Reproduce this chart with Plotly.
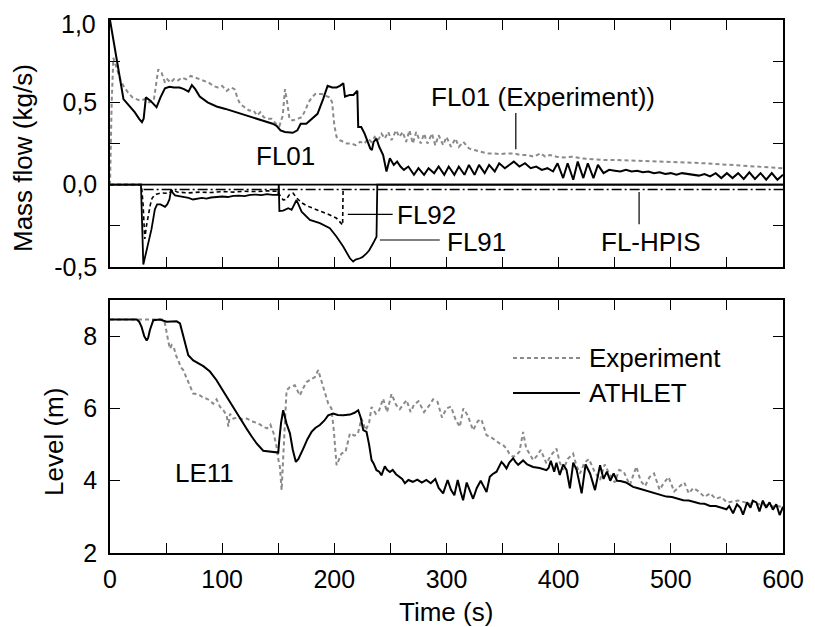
import plotly.graph_objects as go

# ---------------- data ----------------
# Top panel: mass flows (kg/s)
fl01_athlet_t = [0, 3, 8, 12, 17, 22, 26, 28.5, 30, 32, 36, 41.5, 45, 49, 53, 57, 62, 66, 70, 73, 76, 80,
                 87, 95, 103, 110, 118, 125, 132, 140, 145, 148.5, 152, 156, 163, 167, 170, 175, 180, 185,
                 190, 194, 198, 202, 205, 208, 209.5, 214, 217, 220.5, 221.3, 224, 227, 230, 232, 233.5,
                 235, 237.5, 240, 243.5, 246.5, 249.5, 253, 256, 259, 262, 266, 271, 275, 280, 284, 289,
                 293, 298, 302, 307, 311, 316, 320, 325, 329, 334, 338, 343, 347, 352, 356, 360, 365, 370,
                 375, 380, 385, 390, 395, 399, 404, 408, 413, 417, 422, 426, 431, 435, 440, 445, 450, 455,
                 460, 465, 470, 475, 480, 485, 490, 495, 500, 505, 510, 515, 520, 525, 530, 535, 540, 545,
                 550, 555, 560, 565, 570, 575, 580, 585, 590, 595, 600]
fl01_athlet_v = [1.0, 0.88, 0.67, 0.52, 0.48, 0.44, 0.40, 0.38, 0.40, 0.53, 0.51, 0.47, 0.53, 0.585, 0.595,
                 0.59, 0.59, 0.58, 0.565, 0.605, 0.58, 0.535, 0.50, 0.475, 0.46, 0.445, 0.43, 0.413, 0.40,
                 0.383, 0.37, 0.357, 0.33, 0.32, 0.315, 0.33, 0.37, 0.37, 0.40, 0.43, 0.52, 0.60, 0.59,
                 0.59, 0.60, 0.616, 0.535, 0.545, 0.545, 0.57, 0.35, 0.35, 0.31, 0.25, 0.22, 0.21, 0.26,
                 0.28, 0.23, 0.18, 0.08, 0.16, 0.12, 0.14, 0.11, 0.09, 0.11, 0.06, 0.10, 0.06, 0.10, 0.07,
                 0.11, 0.06, 0.11, 0.06, 0.11, 0.06, 0.12, 0.06, 0.12, 0.07, 0.12, 0.08, 0.13, 0.10, 0.12,
                 0.14, 0.11, 0.13, 0.10, 0.11, 0.09, 0.10, 0.08, 0.13, 0.04, 0.13, 0.03, 0.14, 0.04, 0.13,
                 0.04, 0.12, 0.07, 0.09, 0.085, 0.08, 0.09, 0.08, 0.085, 0.075, 0.08, 0.07, 0.075, 0.065,
                 0.07, 0.06, 0.07, 0.065, 0.06, 0.055, 0.065, 0.05, 0.07, 0.04, 0.07, 0.04, 0.07, 0.035,
                 0.075, 0.035, 0.07, 0.03, 0.07, 0.03, 0.06]

fl01_exp_t = [0, 1.5, 3, 6, 9, 12, 16, 20, 24, 27, 31, 35, 39, 41, 43, 46, 49, 51, 54, 57, 60, 64, 68, 72,
              76, 80, 84, 88, 92, 96, 100, 104, 108, 111, 114, 116, 120, 124, 128, 131, 134, 137, 140,
              144, 148, 151, 154, 156, 158, 160, 163, 167, 171, 174, 177, 180, 183, 186, 189, 192, 196,
              198, 200, 202, 205, 208, 211, 215, 219, 223, 227, 230, 233, 236, 239, 242, 245, 248, 251,
              255, 258, 261, 264, 267, 270, 273, 277, 280, 283, 287, 290, 293, 297, 300, 304, 308, 311,
              315, 320, 325, 330, 336, 342, 348, 354, 360, 366, 372, 378, 384, 388, 392, 398, 405, 412,
              420, 430, 440, 450, 460, 470, 480, 490, 500, 510, 520, 530, 540, 550, 560, 570, 580, 590, 600]
fl01_exp_v = [0.0, 0.5, 0.77, 0.70, 0.64, 0.60, 0.56, 0.53, 0.52, 0.51, 0.52, 0.50, 0.51, 0.60, 0.70, 0.68,
              0.62, 0.64, 0.62, 0.64, 0.63, 0.65, 0.64, 0.66, 0.65, 0.64, 0.63, 0.62, 0.60, 0.59, 0.60,
              0.57, 0.59, 0.58, 0.52, 0.49, 0.47, 0.45, 0.45, 0.42, 0.44, 0.41, 0.40, 0.40, 0.37, 0.355,
              0.42, 0.58, 0.50, 0.40, 0.39, 0.40, 0.41, 0.45, 0.50, 0.53, 0.55, 0.55, 0.55, 0.54, 0.53,
              0.50, 0.36, 0.29, 0.27, 0.26, 0.25, 0.25, 0.24, 0.26, 0.25, 0.28, 0.26, 0.29, 0.27, 0.31,
              0.28, 0.32, 0.27, 0.33, 0.29, 0.32, 0.26, 0.33, 0.25, 0.32, 0.25, 0.31, 0.25, 0.31, 0.24,
              0.30, 0.24, 0.29, 0.23, 0.28, 0.23, 0.26, 0.22, 0.21, 0.20, 0.19, 0.19, 0.185, 0.19, 0.19,
              0.18, 0.18, 0.17, 0.19, 0.17, 0.18, 0.17, 0.165, 0.17, 0.16, 0.155, 0.15, 0.15, 0.148,
              0.147, 0.145, 0.14, 0.138, 0.135, 0.133, 0.13, 0.125, 0.12, 0.117, 0.113, 0.108, 0.104, 0.10]

fl91_t = [0, 27.6, 29.7, 32, 34, 37, 40, 42, 45, 47, 49, 51, 53, 54.5, 56, 58, 62, 66, 70, 74, 78, 82, 86,
          90, 95, 100, 105, 110, 115, 120, 125, 130, 135, 140, 145, 150, 150.5, 151, 154.4, 158.9, 161.9,
          164, 166.3, 168, 170.8, 178.2, 187.1, 196, 202, 207.9, 213.9, 216.8, 219, 222.8, 225, 228.7,
          231, 234.6, 237.6, 238.3, 600]
fl91_v = [0, 0, -0.485, -0.42, -0.37, -0.27, -0.15, -0.12, -0.12, -0.13, -0.135, -0.12, -0.09, -0.03,
          -0.05, -0.065, -0.07, -0.075, -0.08, -0.09, -0.085, -0.08, -0.085, -0.078, -0.075, -0.072,
          -0.075, -0.068, -0.066, -0.07, -0.062, -0.06, -0.064, -0.058, -0.062, -0.06, 0.0, -0.16,
          -0.158, -0.143, -0.153, -0.12, -0.093, -0.12, -0.164, -0.214, -0.234, -0.265, -0.316, -0.376,
          -0.447, -0.467, -0.455, -0.447, -0.44, -0.417, -0.40, -0.356, -0.316, 0.0, 0.0]

fl92_t = [0, 28, 29.5, 31, 32.5, 34, 36, 37.5, 40, 43, 46, 50, 53, 55.9, 60, 70, 80, 90, 100, 110, 120,
          130, 140, 150, 151, 154.4, 157, 160, 163.3, 166.3, 170.8, 176, 181.2, 188, 196, 202, 206.4,
          207.4, 207.8]
fl92_v = [0, 0, -0.12, -0.33, -0.25, -0.19, -0.12, -0.083, -0.06, -0.055, -0.05, -0.052, -0.05, -0.03,
          -0.045, -0.05, -0.045, -0.048, -0.042, -0.045, -0.04, -0.042, -0.038, -0.04, -0.06, -0.093,
          -0.09, -0.06, -0.052, -0.08, -0.11, -0.13, -0.143, -0.16, -0.184, -0.204, -0.234, -0.245, -0.03]

hpis_t = [30, 600]
hpis_v = [-0.03, -0.03]

# Bottom panel: level LE11 (m)
le11_athlet_t = [0, 23.8, 26, 28.2, 30.5, 32.7, 34, 35.6, 38.6, 44.5, 50.5, 55, 59.4, 62.4, 64.5, 66.8,
                 69.8, 74.2, 78, 83.2, 89.1, 95, 99.5, 104, 108.5, 112.9, 117.3, 121.8, 126.2, 130.7,
                 136.6, 143, 150, 150.9, 152.5, 154.4, 157.4, 160.4, 163, 165.7, 168, 172.3, 176, 179.7,
                 183, 187.1, 191, 194.5, 199, 203, 208, 214, 218, 221.3, 223.5, 225.8, 228.7, 231, 233.2,
                 235, 237.6, 240, 242, 245, 247, 249.5, 252, 255, 258.4, 260.5, 262.9, 266, 270, 274, 278,
                 282, 286, 290, 293, 297, 301, 304, 307, 310, 312.5, 314.8, 318, 321, 323.7, 327, 330.5,
                 333, 335.7, 338.6, 341, 344.6, 347, 349, 351, 353.5, 356, 359.4, 361.5, 363.9, 368.3,
                 372, 377.2, 383, 389.1, 391, 393, 396, 398, 401, 404, 407, 410, 413, 416, 420.5, 424, 428,
                 432.4, 436.9, 440, 443, 446, 449, 452, 455, 460, 466.3, 470, 475, 481, 486, 491, 496, 501,
                 506, 511, 516, 521, 525.8, 530, 535, 540, 545, 549.6, 552, 555.5, 559, 562, 564.4, 568,
                 571, 573, 576.3, 579, 582, 585, 588, 591, 594, 597, 600]
le11_athlet_v = [8.46, 8.46, 8.40, 8.25, 8.0, 7.88, 7.95, 8.17, 8.44, 8.46, 8.40, 8.40, 8.41, 8.35, 8.1,
                 7.79, 7.47, 7.33, 7.27, 7.17, 7.02, 6.78, 6.55, 6.32, 6.1, 5.90, 5.67, 5.44, 5.23, 5.03,
                 4.83, 4.80, 4.78, 5.12, 5.6, 5.95, 5.58, 5.31, 4.85, 4.52, 4.6, 4.89, 5.15, 5.35, 5.46,
                 5.54, 5.66, 5.81, 5.86, 5.82, 5.81, 5.83, 5.88, 5.95, 5.75, 5.40, 5.35, 5.0, 4.57, 4.48,
                 4.29, 4.25, 4.15, 4.40, 4.30, 4.24, 4.30, 4.18, 4.11, 4.05, 3.93, 4.02, 3.97, 4.03, 3.95,
                 4.02, 3.93, 4.05, 3.80, 3.65, 4.02, 3.75, 3.60, 4.02, 3.70, 3.46, 3.95, 3.70, 3.50, 3.80,
                 4.0, 3.85, 3.69, 4.11, 4.18, 4.25, 4.40, 4.52, 4.45, 4.34, 4.50, 4.62, 4.52, 4.44, 4.56,
                 4.45, 4.38, 4.35, 4.29, 4.35, 4.55, 4.25, 4.50, 4.16, 4.45, 4.30, 3.79, 4.50, 4.30, 3.65,
                 4.45, 4.20, 3.74, 4.43, 4.05, 4.25, 4.00, 4.20, 4.00, 3.99, 3.95, 3.83, 3.80, 3.75, 3.69,
                 3.65, 3.60, 3.56, 3.55, 3.50, 3.46, 3.45, 3.40, 3.37, 3.36, 3.30, 3.30, 3.25, 3.21, 3.30,
                 3.10, 3.35, 3.25, 3.06, 3.40, 3.25, 3.45, 3.40, 3.15, 3.45, 3.25, 3.40, 3.20, 3.35, 3.05,
                 3.28]

le11_exp_t = [0, 47.5, 49, 50.5, 52, 53.5, 55, 57, 59, 60.9, 63, 65.3, 68, 71.3, 74.2, 77, 80.2, 83, 86.1,
              89, 92, 95, 98, 101, 104, 105.5, 107, 110, 114, 118, 122, 127.7, 131, 134, 136.6, 140, 143,
              146, 148.5, 150, 151.5, 153, 155, 157.4, 160.4, 164.8, 167, 169.3, 172, 175.2, 179, 182.7,
              185.6, 188.5, 191, 194.5, 197.4, 199.5, 202, 204, 206.4, 210, 213.9, 218, 221, 224.2, 228,
              231, 233.2, 237, 240, 243.5, 247, 251, 255, 258.4, 264.4, 268, 271, 275, 280, 285, 288, 292,
              296, 300, 304, 308, 311.9, 315, 319, 323.7, 328, 331, 335.7, 340, 344, 347.5, 350, 353.5,
              356, 359.4, 362, 365, 368.3, 371, 374, 377.2, 381, 384, 389.1, 393, 398, 401, 404, 408,
              412.9, 416, 419, 423, 427, 432, 436.9, 441, 445, 450, 454, 458, 463.4, 469.3, 473, 477,
              481, 485, 490, 494, 498, 503, 508, 512, 516, 520, 525, 530, 535, 540, 545, 550, 560, 570,
              580, 590, 600]
le11_exp_v = [8.46, 8.46, 8.35, 8.07, 7.85, 7.65, 7.75, 7.68, 7.45, 7.33, 7.15, 7.06, 6.85, 6.59, 6.41,
              6.40, 6.36, 6.30, 6.27, 6.22, 6.13, 6.25, 6.05, 5.95, 5.81, 5.50, 5.85, 5.72, 5.75, 5.70,
              5.72, 5.63, 5.60, 5.55, 5.49, 5.45, 5.55, 5.30, 4.94, 4.60, 4.38, 3.74, 4.94, 6.5, 6.59,
              6.64, 6.50, 6.36, 6.55, 6.73, 6.80, 6.87, 7.06, 6.78, 6.50, 6.14, 6.0, 5.4, 4.43, 4.60,
              4.75, 4.80, 5.31, 5.25, 5.30, 5.72, 5.40, 5.60, 6.04, 5.85, 5.95, 6.27, 5.90, 6.40, 6.10,
              5.98, 6.23, 5.90, 6.10, 6.20, 5.90, 6.10, 6.25, 6.18, 5.75, 6.00, 6.05, 5.70, 5.49, 6.00,
              5.80, 5.40, 5.65, 5.70, 5.26, 5.20, 5.10, 5.03, 5.00, 4.89, 4.75, 4.66, 4.70, 4.80, 5.35,
              4.90, 4.75, 4.57, 4.70, 4.85, 4.48, 4.70, 4.89, 4.50, 4.30, 4.60, 4.75, 4.40, 4.20, 4.50,
              4.60, 4.25, 4.02, 4.45, 4.20, 3.95, 4.30, 4.25, 3.88, 4.39, 4.00, 3.85, 4.10, 4.20, 3.75,
              3.95, 4.10, 3.70, 3.85, 3.95, 3.65, 3.80, 3.70, 3.55, 3.65, 3.50, 3.55, 3.40, 3.45, 3.37,
              3.35, 3.30, 3.28]

x_tickvals = [0, 50, 100, 150, 200, 250, 300, 350, 400, 450, 500, 550, 600]
x_ticktext = ["0", "", "100", "", "200", "", "300", "", "400", "", "500", "", "600"]
top_tickvals = [-0.5, -0.25, 0.0, 0.25, 0.5, 0.75, 1.0]
top_ticktext = ["-0,5", "", "0,0", "", "0,5", "", ""]   # "1,0" drawn separately below the frame top
top_label_max = "1,0"
bot_tickvals = [2, 4, 6, 8]
bot_ticktext = ["2", "4", "6", "8"]

# ---------------- figure ----------------
FONT = "Liberation Sans, Arial, sans-serif"
GRAY = "#8a8a8a"
TICK_SIZE = 25
TEXT_SIZE = 26
WIN_W, WIN_H = 815, 627
OFF = 8  # page body margin of the browser
W, H = WIN_W - OFF, WIN_H - OFF
# plot area in window pixels: x 110..783, y 20..553
ML, MR, MT, MB = 110 - OFF, WIN_W - 783, 20 - OFF, WIN_H - 553
PW, PH = 783 - 110, 553 - 20


def px_x(p):  # window pixel -> paper x
    return (p - 110) / PW


def px_y(p):  # window pixel -> paper y
    return (553 - p) / PH


fig = go.Figure()

# top panel
fig.add_trace(go.Scatter(x=hpis_t, y=hpis_v, mode="lines", xaxis="x", yaxis="y",
                         line=dict(color="black", width=1.5, dash="10px,3px,2px,3px"), showlegend=False))
fig.add_trace(go.Scatter(x=fl92_t, y=fl92_v, mode="lines", xaxis="x", yaxis="y",
                         line=dict(color="black", width=1.6, dash="4px,3px"), showlegend=False))
fig.add_trace(go.Scatter(x=fl91_t, y=fl91_v, mode="lines", xaxis="x", yaxis="y",
                         line=dict(color="black", width=1.8), showlegend=False))
fig.add_trace(go.Scatter(x=fl01_exp_t, y=fl01_exp_v, mode="lines", xaxis="x", yaxis="y",
                         line=dict(color=GRAY, width=2, dash="4px,3px"), showlegend=False))
fig.add_trace(go.Scatter(x=fl01_athlet_t, y=fl01_athlet_v, mode="lines", xaxis="x", yaxis="y",
                         line=dict(color="black", width=2), showlegend=False))

# bottom panel
fig.add_trace(go.Scatter(x=le11_exp_t, y=le11_exp_v, mode="lines", xaxis="x2", yaxis="y2",
                         line=dict(color=GRAY, width=2, dash="4px,3px"), name="Experiment", showlegend=False))
fig.add_trace(go.Scatter(x=le11_athlet_t, y=le11_athlet_v, mode="lines", xaxis="x2", yaxis="y2",
                         line=dict(color="black", width=2), name="ATHLET", showlegend=False))

axis_common = dict(showline=True, linecolor="black", linewidth=1.5, mirror="ticks", ticks="inside",
                   ticklen=10, tickwidth=1.3, tickcolor="black", showgrid=False, zeroline=False,
                   ticklabeloverflow="allow",
                   tickfont=dict(family=FONT, size=TICK_SIZE, color="black"))

fig.update_layout(
    width=W, height=H,
    margin=dict(l=ML, r=MR, t=MT, b=MB, autoexpand=False),
    paper_bgcolor="white", plot_bgcolor="white",
    font=dict(family=FONT, size=TEXT_SIZE, color="black"),
    xaxis=dict(domain=[0, 1], anchor="y", range=[0, 600], tickmode="array", tickvals=x_tickvals,
               ticktext=x_ticktext, showticklabels=False, **axis_common),
    yaxis=dict(domain=[px_y(267), 1], anchor="x", range=[-0.5, 1.0], tickmode="array",
               tickvals=top_tickvals, ticktext=top_ticktext, ticklabelstandoff=6, **axis_common),
    xaxis2=dict(domain=[0, 1], anchor="y2", range=[0, 600], tickmode="array", tickvals=x_tickvals,
                ticktext=x_ticktext, ticklabelstandoff=3, **axis_common),
    yaxis2=dict(domain=[0, px_y(300)], anchor="x2", range=[2, 9], tickmode="array",
                tickvals=bot_tickvals, ticktext=bot_ticktext, ticklabelstandoff=6, **axis_common),
)

# "1,0" label of the top axis, sitting a little below the frame top
fig.add_annotation(x=px_x(98), y=px_y(24), xref="paper", yref="paper", text=top_label_max,
                   showarrow=False, xanchor="right", yanchor="middle",
                   font=dict(family=FONT, size=TICK_SIZE, color="black"))

# zero line in top panel
fig.add_hline(y=0, line=dict(color="black", width=1.6), xref="x", yref="y")

# leader lines (data coordinates)
leaders = [
    dict(x0=212, y0=-0.18, x1=252, y1=-0.18),      # FL92
    dict(x0=240.6, y0=-0.336, x1=294, y1=-0.336),  # FL91
    dict(x0=471.7, y0=-0.045, x1=471.7, y1=-0.24),  # FL-HPIS
    dict(x0=361.8, y0=0.435, x1=361.8, y1=0.215),   # FL01 (Experiment)
]
for ld in leaders:
    fig.add_shape(type="line", xref="x", yref="y", line=dict(color="black", width=1.2), **ld)

labels = [
    dict(x=156.4, y=0.174, text="FL01", xanchor="center", xref="x", yref="y"),
    dict(x=385.6, y=0.534, text="FL01 (Experiment))", xanchor="center", xref="x", yref="y"),
    dict(x=254, y=-0.184, text="FL92", xanchor="left", xref="x", yref="y"),
    dict(x=298.5, y=-0.35, text="FL91", xanchor="left", xref="x", yref="y"),
    dict(x=482, y=-0.346, text="FL-HPIS", xanchor="center", xref="x", yref="y"),
    dict(x=83.8, y=4.21, text="LE11", xanchor="center", xref="x2", yref="y2"),
]
for lb in labels:
    fig.add_annotation(showarrow=False, yanchor="middle", font=dict(family=FONT, size=TEXT_SIZE, color="black"), **lb)

# axis titles (right edge of the rotated text box placed next to the tick labels)
fig.add_annotation(x=px_x(40), y=px_y(158), xref="paper", yref="paper", text="Mass flow (kg/s)",
                   textangle=-90, showarrow=False, xanchor="right", yanchor="middle",
                   font=dict(family=FONT, size=TEXT_SIZE, color="black"))
fig.add_annotation(x=px_x(71), y=px_y(442), xref="paper", yref="paper", text="Level (m)",
                   textangle=-90, showarrow=False, xanchor="right", yanchor="middle",
                   font=dict(family=FONT, size=TEXT_SIZE, color="black"))
fig.add_annotation(x=px_x(446), y=px_y(612), xref="paper", yref="paper", text="Time (s)",
                   showarrow=False, xanchor="center", yanchor="middle",
                   font=dict(family=FONT, size=TEXT_SIZE, color="black"))

# legend (bottom panel)
legend_items = [("Experiment", GRAY, "4px,3px", 358), ("ATHLET", "black", "solid", 393)]
for name, col, dsh, ypx in legend_items:
    fig.add_shape(type="line", xref="paper", yref="paper", x0=px_x(513), x1=px_x(580),
                  y0=px_y(ypx), y1=px_y(ypx), line=dict(color=col, width=2, dash=dsh))
    fig.add_annotation(x=px_x(587), y=px_y(ypx), xref="paper", yref="paper", text=name,
                       showarrow=False, xanchor="left", yanchor="middle",
                       font=dict(family=FONT, size=TEXT_SIZE, color="black"))

fig.write_html("out.html")
